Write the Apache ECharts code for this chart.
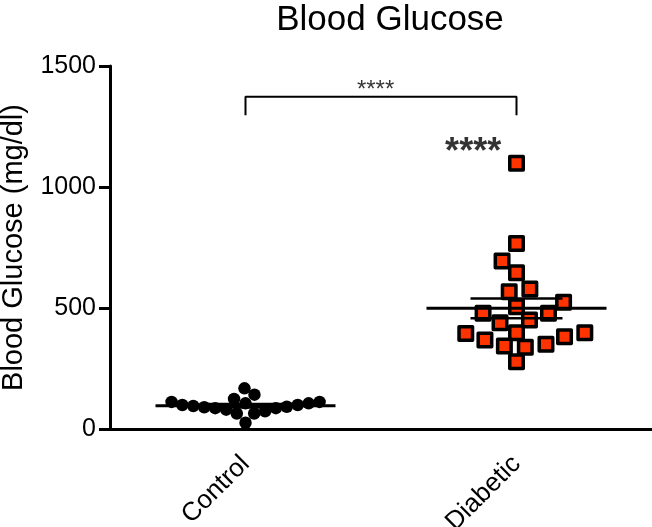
<!DOCTYPE html>
<html><head><meta charset="utf-8">
<script src="https://cdn.jsdelivr.net/npm/echarts@6/dist/echarts.min.js"></script>
<style>html,body{margin:0;padding:0;background:#fff}#c{width:652px;height:527px}</style>
</head><body><div id="c"></div>
<script>
// ---- data ----
const categories = ['Control', 'Diabetic'];
const controlValues = [112, 106, 99, 95, 90, 86, 142, 64, 124, 26, 64, 168, 73, 80, 86, 92, 99, 106, 112];
const diabeticValues = [1098, 767, 694, 646, 579, 567, 524, 505, 478, 478, 439, 450, 395, 381, 368, 398, 398, 343, 338, 350, 278];
const yTicks = [0, 500, 1000, 1500];
const titleText = 'Blood Glucose';
const yAxisName = 'Blood Glucose (mg/dl)';
const bracketLabel = '****';
const groupLabel = '****';
const bracketLevel = 1373;
const bracketDrop = 76;

const FONT = '"Liberation Sans", Arial, Helvetica, sans-serif';
const chart = echarts.init(document.getElementById('c'), null, { renderer: 'canvas' });

function mean(a) { return a.reduce((s, v) => s + v, 0) / a.length; }
function sem(a) {
  const m = mean(a);
  const v = a.reduce((s, x) => s + (x - m) * (x - m), 0) / (a.length - 1);
  return Math.sqrt(v) / Math.sqrt(a.length);
}
const groups = [controlValues, diabeticValues];
const summary = groups.map((g, i) => [i, mean(g), sem(g)]);

const base = {
  animation: false,
  backgroundColor: '#fff',
  title: {
    text: titleText, left: 385, top: -2, textAlign: 'center',
    textStyle: { fontFamily: FONT, fontSize: 35, fontWeight: 'normal', color: '#000' }
  },
  grid: { left: 110, right: 0, top: 66, bottom: 98, containLabel: false, outerBoundsMode: 'none' },
  xAxis: [
    {
      type: 'category', data: categories, boundaryGap: true,
      axisLine: { lineStyle: { color: '#000', width: 3 } },
      axisTick: { alignWithLabel: true, length: 10, lineStyle: { color: '#000', width: 3 } },
      axisLabel: { rotate: 45, fontSize: 26, color: '#000', fontFamily: FONT, margin: 31 },
      splitLine: { show: false }
    },
    { type: 'value', min: -0.5, max: 1.5, show: false, splitLine: { show: false } }
  ],
  yAxis: {
    type: 'value', min: yTicks[0], max: yTicks[yTicks.length - 1], interval: yTicks[1] - yTicks[0],
    name: yAxisName, nameLocation: 'middle', nameGap: 82,
    nameTextStyle: { fontFamily: FONT, fontSize: 29, color: '#000' },
    axisLine: { show: true, onZero: false, lineStyle: { color: '#000', width: 3 } },
    axisTick: { show: true, length: 11, lineStyle: { color: '#000', width: 3 } },
    axisLabel: { fontSize: 25, color: '#000', fontFamily: FONT, margin: 14, formatter: v => String(v) },
    splitLine: { show: false }
  },
  series: []
};
chart.setOption(base);

const unitX = chart.convertToPixel({ xAxisIndex: 1 }, 1) - chart.convertToPixel({ xAxisIndex: 1 }, 0);
function pxY(v) { return chart.convertToPixel({ yAxisIndex: 0 }, v); }

// beeswarm layout: ascending order, nearest free slot to column centre (elliptic spacing)
function swarm(values, Dx, Dy) {
  const order = values.map((v, i) => i).sort((a, b) => values[a] - values[b]);
  const placed = [];
  const xs = new Array(values.length);
  let side = 1;
  const clash = (p, c, y) => {
    const a = (p.x - c) / Dx, b = (p.y - y) / Dy;
    return a * a + b * b < 1 - 1e-4;
  };
  for (const i of order) {
    const y = pxY(values[i]);
    const cands = [0];
    for (const p of placed) {
      const dy = Math.abs(p.y - y);
      if (dy < Dy) { const dx = Dx * Math.sqrt(1 - (dy / Dy) * (dy / Dy)); cands.push(p.x + dx, p.x - dx); }
    }
    cands.sort((a, b) => {
      const d = Math.abs(a) - Math.abs(b);
      if (Math.abs(d) < 1e-6) return side * (b - a);
      return d;
    });
    let chosen = 0;
    for (const c of cands) {
      if (!placed.some(p => clash(p, c, y))) { chosen = c; break; }
    }
    if (Math.abs(chosen) > 1e-6) side = -Math.sign(chosen);
    placed.push({ x: chosen, y });
    xs[i] = chosen / unitX;
  }
  return xs;
}

const ctrlOff = swarm(controlValues, 11, 15);
const diabOff = swarm(diabeticValues, 21, 16);

const MEAN_HALF = 90, SEM_HALF = 46;

chart.setOption({
  series: [
    {
      type: 'scatter', xAxisIndex: 1, yAxisIndex: 0, z: 2,
      symbol: 'circle', symbolSize: 12.5,
      itemStyle: { color: '#000', opacity: 1 },
      data: controlValues.map((v, i) => [0 + ctrlOff[i], v])
    },
    {
      type: 'scatter', xAxisIndex: 1, yAxisIndex: 0, z: 2,
      symbol: 'rect', symbolSize: 13.5,
      itemStyle: { color: '#FF3300', borderColor: '#000', borderWidth: 3.5, borderJoin: 'round', opacity: 1 },
      data: diabeticValues.map((v, i) => [1 + diabOff[i], v])
    },
    {
      type: 'custom', xAxisIndex: 1, yAxisIndex: 0, z: 5,
      data: summary,
      renderItem: function (params, api) {
        const c = api.coord([api.value(0), api.value(1)]);
        const up = api.coord([api.value(0), api.value(1) + api.value(2)]);
        const dn = api.coord([api.value(0), api.value(1) - api.value(2)]);
        return {
          type: 'group', children: [
            { type: 'line', shape: { x1: c[0] - MEAN_HALF, y1: c[1], x2: c[0] + MEAN_HALF, y2: c[1] }, style: { stroke: '#000', lineWidth: 3 } },
            { type: 'line', shape: { x1: c[0] - SEM_HALF, y1: up[1], x2: c[0] + SEM_HALF, y2: up[1] }, style: { stroke: '#000', lineWidth: 2.5 } },
            { type: 'line', shape: { x1: c[0] - SEM_HALF, y1: dn[1], x2: c[0] + SEM_HALF, y2: dn[1] }, style: { stroke: '#000', lineWidth: 2.5 } }
          ]
        };
      }
    },
    {
      type: 'line', xAxisIndex: 1, yAxisIndex: 0, z: 5, symbol: 'none',
      lineStyle: { color: '#000', width: 2 },
      data: [[0, bracketLevel - bracketDrop], [0, bracketLevel], [1, bracketLevel], [1, bracketLevel - bracketDrop]]
    },
    {
      type: 'scatter', xAxisIndex: 1, yAxisIndex: 0, z: 6, symbolSize: 0,
      label: { show: true, position: 'inside', formatter: bracketLabel, fontSize: 24, color: '#000', fontFamily: FONT },
      data: [[0.48, 1400]]
    },
    {
      type: 'scatter', xAxisIndex: 1, yAxisIndex: 0, z: 6, symbolSize: 0,
      label: { show: true, position: 'inside', formatter: groupLabel, fontSize: 36, fontWeight: 'bold', color: '#000', fontFamily: FONT },
      data: [[0.84, 1140]]
    }
  ]
});
</script>
</body></html>
